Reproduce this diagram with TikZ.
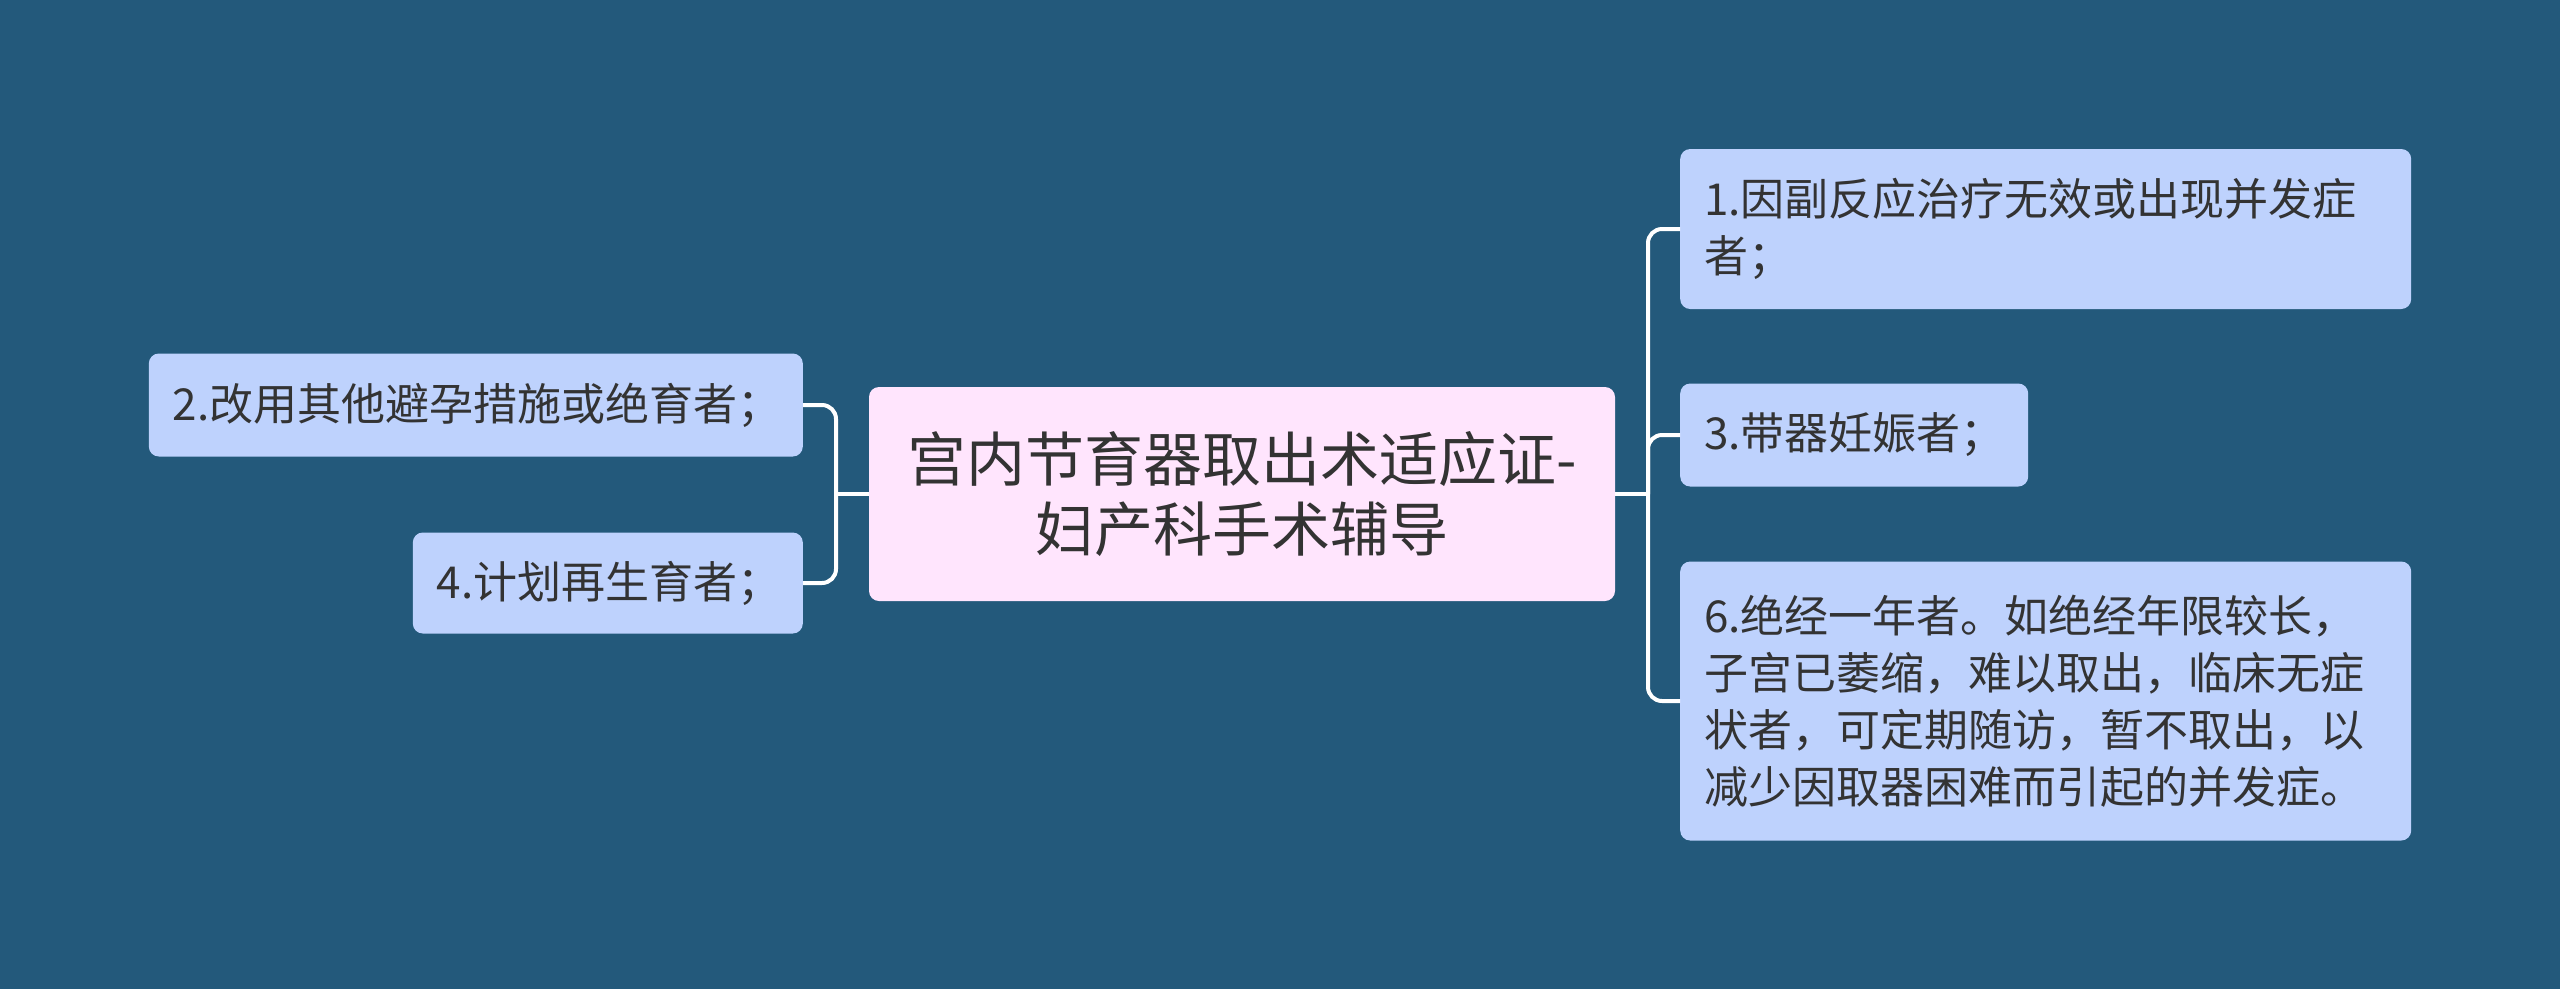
\documentclass[tikz,border=0pt]{standalone}
\usepackage{fontspec}
\usepackage{tikz}
\newfontfamily\cjk{Noto Sans CJK SC}
\definecolor{deepsea}{RGB}{35,89,123}
\definecolor{powder}{RGB}{190,210,253}
\definecolor{blush}{RGB}{255,229,253}
\definecolor{ink}{RGB}{51,51,51}

\begin{document}
\begin{tikzpicture}[x=1pt,y=-1pt,
  hub node/.style={fill=blush,rounded corners=10pt,text=ink,
    font=\cjk\fontsize{59}{70}\selectfont,align=center,
    minimum width=746pt,minimum height=214pt,inner sep=0pt},
  leaf node/.style={fill=powder,rounded corners=10pt,text=ink,
    font=\cjk\fontsize{44}{57}\selectfont,align=left,
    inner xsep=24pt,inner ysep=0pt},
  link/.style={draw=white,line width=4pt,rounded corners=14pt}]

  \fill[deepsea] (0,0) rectangle (2560,989);

  \node[hub node] (hub) at (1242,494) {宫内节育器取出术适应证-\\妇产科手术辅导};

  \node[leaf node,anchor=east,text width=606pt,minimum height=103pt] (c2) at (803,405) {2.改用其他避孕措施或绝育者；};
  \node[leaf node,anchor=east,text width=342pt,minimum height=101pt] (c4) at (803,583) {4.计划再生育者；};
  \node[leaf node,anchor=west,text width=683pt,minimum height=160pt] (c1) at (1680,229) {1.因副反应治疗无效或出现并发症\\者；};
  \node[leaf node,anchor=west,text width=300pt,minimum height=103pt] (c3) at (1680,435) {3.带器妊娠者；};
  \node[leaf node,anchor=west,text width=683pt,minimum height=279pt] (c6) at (1680,701) {6.绝经一年者。如绝经年限较长，\\子宫已萎缩，难以取出，临床无症\\状者，可定期随访，暂不取出，以\\减少因取器困难而引起的并发症。};

  \coordinate (west bus) at (836,494);
  \coordinate (east bus) at (1648,494);
  \draw[link] (hub.west) -- (west bus);
  \draw[link] (west bus) |- (c2.east);
  \draw[link] (west bus) |- (c4.east);
  \draw[link] (hub.east) -- (east bus);
  \draw[link] (east bus) |- (c1.west);
  \draw[link] (east bus) |- (c3.west);
  \draw[link] (east bus) |- (c6.west);
\end{tikzpicture}
\end{document}
